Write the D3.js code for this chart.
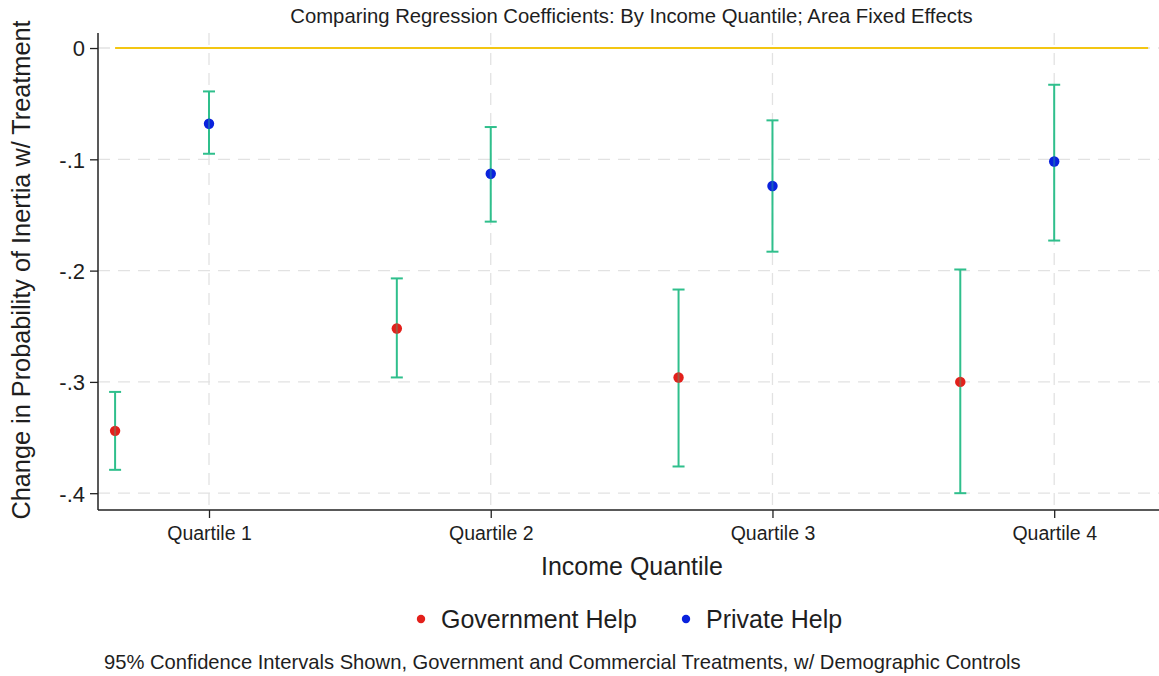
<!DOCTYPE html>
<html>
<head>
<meta charset="utf-8">
<script src="https://cdn.jsdelivr.net/npm/d3@7"></script>
<style>
  html, body { margin: 0; padding: 0; background: #fff; }
  svg { display: block; font-family: "Liberation Sans", Arial, Helvetica, sans-serif; }
</style>
</head>
<body>
<svg id="chart" width="1159" height="676"></svg>
<script>
// Coefficient estimates by income quartile, with 95% confidence bounds
const quartiles = ["Quartile 1", "Quartile 2", "Quartile 3", "Quartile 4"];
const govEstimate = [-0.344, -0.252, -0.296, -0.300];
const govLower    = [-0.379, -0.296, -0.376, -0.400];
const govUpper    = [-0.309, -0.207, -0.217, -0.199];
const privEstimate = [-0.068, -0.113, -0.124, -0.102];
const privLower    = [-0.095, -0.156, -0.183, -0.173];
const privUpper    = [-0.039, -0.071, -0.065, -0.033];
const yTickValues = [0, -0.1, -0.2, -0.3, -0.4];
const yTickLabels = ["0", "-.1", "-.2", "-.3", "-.4"];
const seriesNames = ["Government Help", "Private Help"];

const colors = {
  gov: "#e3201b",
  priv: "#0a22dd",
  ci: "#2fbf8c",
  zero: "#f3c613",
  grid: "#e2e2e2",
  axis: "#222",
  text: "#1e1e1e"
};

const svg = d3.select("#chart");
const plot = { left: 98, right: 1159, top: 33, bottom: 510 };

// Government estimates sit one third of a step left of each quartile
const govOffset = -1 / 3;

const x = d3.scaleLinear().domain([0.606, 4.372]).range([plot.left, plot.right]);
const y = d3.scaleLinear().domain([-0.4151, 0.0135]).range([plot.bottom, plot.top]);

// Gridlines
const grid = svg.append("g");
grid.selectAll("line.h").data(yTickValues).join("line")
  .attr("x1", plot.left).attr("x2", plot.right)
  .attr("y1", d => y(d)).attr("y2", d => y(d))
  .attr("stroke", colors.grid).attr("stroke-width", 1.3)
  .attr("stroke-dasharray", "12,8");
grid.selectAll("line.v").data(quartiles).join("line")
  .attr("x1", (d, i) => x(i + 1)).attr("x2", (d, i) => x(i + 1))
  .attr("y1", plot.top).attr("y2", plot.bottom)
  .attr("stroke", colors.grid).attr("stroke-width", 1.3)
  .attr("stroke-dasharray", "12,8");

// Reference line at zero
svg.append("line")
  .attr("x1", x(1 + govOffset)).attr("x2", x(4 - govOffset))
  .attr("y1", y(0)).attr("y2", y(0))
  .attr("stroke", colors.zero).attr("stroke-width", 2);

// Axes
const yAxis = d3.axisLeft(y)
  .tickValues(yTickValues)
  .tickFormat((d, i) => yTickLabels[i])
  .tickSize(8).tickPadding(6);
const gy = svg.append("g").attr("transform", `translate(${plot.left},0)`).call(yAxis);
gy.select(".domain").attr("d", `M0,${plot.top}V${plot.bottom}`).attr("stroke", colors.axis).attr("stroke-width", 1.5);
gy.selectAll(".tick line").attr("stroke", colors.axis).attr("stroke-width", 1.3);
gy.selectAll(".tick text").attr("font-size", 22).attr("fill", colors.text)
  .attr("font-family", "Liberation Sans, Arial, sans-serif").attr("x", -13).attr("dy", "0.36em");

const xAxis = d3.axisBottom(x)
  .tickValues([1, 2, 3, 4])
  .tickFormat((d, i) => quartiles[i])
  .tickSize(8).tickPadding(4);
const gx = svg.append("g").attr("transform", `translate(0,${plot.bottom})`).call(xAxis);
gx.select(".domain").attr("d", `M${plot.left},0H${plot.right}`).attr("stroke", colors.axis).attr("stroke-width", 1.5);
gx.selectAll(".tick line").attr("stroke", colors.axis).attr("stroke-width", 1.3);
gx.selectAll(".tick text").attr("font-size", 19.5).attr("fill", colors.text)
  .attr("font-family", "Liberation Sans, Arial, sans-serif").attr("y", 30).attr("dy", 0);

// Series rows for drawing
const rows = [];
quartiles.forEach((q, i) => {
  rows.push({ pos: i + 1 + govOffset, est: govEstimate[i], lo: govLower[i], hi: govUpper[i], color: colors.gov });
  rows.push({ pos: i + 1, est: privEstimate[i], lo: privLower[i], hi: privUpper[i], color: colors.priv });
});

const cap = 6;
const ci = svg.append("g").attr("stroke", colors.ci).attr("stroke-width", 2).attr("fill", "none");
rows.forEach(r => {
  const cx = x(r.pos);
  ci.append("line").attr("x1", cx).attr("x2", cx).attr("y1", y(r.lo)).attr("y2", y(r.hi));
  ci.append("line").attr("x1", cx - cap).attr("x2", cx + cap).attr("y1", y(r.lo)).attr("y2", y(r.lo));
  ci.append("line").attr("x1", cx - cap).attr("x2", cx + cap).attr("y1", y(r.hi)).attr("y2", y(r.hi));
});

// Point estimates, with the interval line showing faintly through them
const pts = svg.append("g");
rows.forEach(r => {
  const cx = x(r.pos), cy = y(r.est);
  pts.append("circle").attr("cx", cx).attr("cy", cy).attr("r", 5.2).attr("fill", r.color);
  pts.append("line").attr("x1", cx).attr("x2", cx).attr("y1", cy - 5).attr("y2", cy + 5)
    .attr("stroke", colors.ci).attr("stroke-width", 2).attr("opacity", 0.35);
});

// Titles
svg.append("text").attr("x", 631.5).attr("y", 23).attr("text-anchor", "middle")
  .attr("font-size", 20.3).attr("fill", colors.text)
  .text("Comparing Regression Coefficients: By Income Quantile; Area Fixed Effects");

svg.append("text")
  .attr("transform", `translate(30,270) rotate(-90)`)
  .attr("text-anchor", "middle").attr("font-size", 25.3).attr("fill", colors.text)
  .text("Change in Probability of Inertia w/ Treatment");

svg.append("text").attr("x", 632).attr("y", 575).attr("text-anchor", "middle")
  .attr("font-size", 25).attr("fill", colors.text)
  .text("Income Quantile");

// Legend
const legend = svg.append("g").attr("transform", "translate(0,619)");
const legendItems = [
  { name: seriesNames[0], color: colors.gov, x: 421 },
  { name: seriesNames[1], color: colors.priv, x: 686 }
];
legendItems.forEach(d => {
  legend.append("circle").attr("cx", d.x).attr("cy", 0).attr("r", 4.2).attr("fill", d.color);
  legend.append("text").attr("x", d.x + 20).attr("y", 9).attr("font-size", 25).attr("fill", colors.text).text(d.name);
});

// Note
svg.append("text").attr("x", 104).attr("y", 669).attr("font-size", 20.2).attr("fill", colors.text)
  .text("95% Confidence Intervals Shown, Government and Commercial Treatments, w/ Demographic Controls");
</script>
</body>
</html>
